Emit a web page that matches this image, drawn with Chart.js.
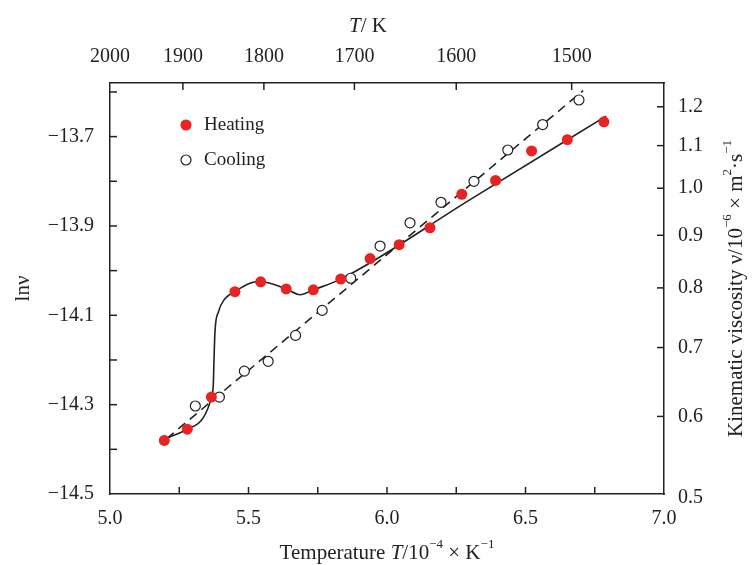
<!DOCTYPE html>
<html>
<head>
<meta charset="utf-8">
<script src="https://cdn.jsdelivr.net/npm/chart.js@4.4.0/dist/chart.umd.min.js"></script>
<style>
  body { margin: 0; background: #fff; }
  canvas { display: block; }
</style>
</head>
<body>
<canvas id="chart" width="755" height="565"></canvas>
<script>
// heating run (filled red), x = 1/T in 10^-4 K^-1, y = ln(nu)
const heatingX = [5.196, 5.279, 5.366, 5.451, 5.544, 5.636, 5.734, 5.833, 5.939, 6.044, 6.155, 6.270, 6.392, 6.522, 6.651, 6.783];
const heatingLn = [-14.38, -14.355, -14.283, -14.047, -14.025, -14.041, -14.043, -14.019, -13.973, -13.942, -13.904, -13.829, -13.798, -13.732, -13.707, -13.667];

// cooling run (open circles)
const coolingX = [5.308, 5.395, 5.485, 5.571, 5.670, 5.766, 5.869, 5.975, 6.083, 6.195, 6.314, 6.436, 6.562, 6.693];
const coolingLn = [-14.303, -14.283, -14.225, -14.203, -14.145, -14.089, -14.017, -13.945, -13.893, -13.847, -13.800, -13.730, -13.673, -13.618];

// solid curve traced through the heating data
const heatCurveX = [5.200, 5.279, 5.337, 5.366, 5.373, 5.375, 5.379, 5.391, 5.415, 5.451, 5.505, 5.544, 5.636, 5.686, 5.734, 5.833, 6.30, 6.791];
const heatCurveLn = [-14.376, -14.355, -14.329, -14.283, -14.254, -14.210, -14.137, -14.093, -14.063, -14.047, -14.028, -14.025, -14.041, -14.054, -14.043, -14.019, -13.841, -13.654];

// dashed fit for cooling
const coolFitX = [5.205, 6.708];
const coolFitLn = [-14.376, -13.597];

// axis ticks
const xTicks = [5.0, 5.25, 5.5, 5.75, 6.0, 6.25, 6.5, 6.75, 7.0];
const lnTicks = [-14.5, -14.4, -14.3, -14.2, -14.1, -14.0, -13.9, -13.8, -13.7, -13.6];
const topTemps = [2000, 1900, 1800, 1700, 1600, 1500];
const viscTicks = [0.5, 0.6, 0.7, 0.8, 0.9, 1.0, 1.1, 1.2];

const FONT = "'Liberation Serif', 'Times New Roman', serif";
const INK = '#222';
const RED = '#e82323';
const TICK = 7;

const pts = (xs, ys) => xs.map((x, i) => ({ x: x, y: ys[i] }));

// draws text pieces, some italic or raised
function richWidth(ctx, parts, size) {
  let w = 0;
  parts.forEach(p => {
    const s = p.sup ? size * 0.62 : size;
    ctx.font = (p.it ? 'italic ' : '') + s + 'px ' + FONT;
    w += ctx.measureText(p.t).width;
  });
  return w;
}
function drawRich(ctx, parts, size, cx, cy) {
  let x = cx - richWidth(ctx, parts, size) / 2;
  ctx.textBaseline = 'middle';
  ctx.textAlign = 'left';
  parts.forEach(p => {
    const s = p.sup ? size * 0.62 : size;
    ctx.font = (p.it ? 'italic ' : '') + s + 'px ' + FONT;
    ctx.fillText(p.t, x, p.sup ? cy - size * 0.38 : cy);
    x += ctx.measureText(p.t).width;
  });
}

const decorations = {
  id: 'decorations',
  afterDraw(chart) {
    const { ctx, chartArea: a } = chart;
    ctx.save();
    // inward tick marks
    ctx.strokeStyle = INK;
    ctx.lineWidth = 1.5;
    Object.values(chart.scales).forEach(s => {
      s.ticks.forEach(t => {
        const p = s.getPixelForValue(t.value);
        ctx.beginPath();
        if (s.isHorizontal()) {
          if (p <= a.left + 1 || p >= a.right - 1) return;
          const y0 = s.position === 'top' ? a.top : a.bottom;
          const d = s.position === 'top' ? TICK : -TICK;
          ctx.moveTo(p, y0); ctx.lineTo(p, y0 + d);
        } else {
          if (p <= a.top + 1 || p >= a.bottom - 1) return;
          const x0 = s.position === 'left' ? a.left : a.right;
          const d = s.position === 'left' ? TICK : -TICK;
          ctx.moveTo(x0, p); ctx.lineTo(x0 + d, p);
        }
        ctx.stroke();
      });
    });

    ctx.fillStyle = INK;
    // axis titles
    drawRich(ctx, [{ t: 'Temperature ' }, { t: 'T', it: true }, { t: '/10' }, { t: '\u22124', sup: true }, { t: ' \u00d7 K' }, { t: '\u22121', sup: true }], 21, (a.left + a.right) / 2, 553);
    drawRich(ctx, [{ t: 'T', it: true }, { t: '/ K' }], 21, 368, 26);
    ctx.save();
    ctx.translate(736, (a.top + a.bottom) / 2);
    ctx.rotate(-Math.PI / 2);
    drawRich(ctx, [{ t: 'Kinematic viscosity \u03bd/10' }, { t: '\u22126', sup: true }, { t: ' \u00d7 m' }, { t: '2', sup: true }, { t: '\u00b7s' }, { t: '\u22121', sup: true }], 21, 0, 0);
    ctx.restore();

    // legend inside the plot
    const rows = [
      { label: 'Heating', fill: RED, stroke: RED, y: a.top + 42 },
      { label: 'Cooling', fill: '#fff', stroke: INK, y: a.top + 77 }
    ];
    rows.forEach(r => {
      ctx.beginPath();
      ctx.arc(a.left + 76, r.y, 5, 0, Math.PI * 2);
      ctx.fillStyle = r.fill;
      ctx.fill();
      ctx.lineWidth = 1.2;
      ctx.strokeStyle = r.stroke;
      ctx.stroke();
      ctx.fillStyle = INK;
      ctx.font = '19px ' + FONT;
      ctx.textAlign = 'left';
      ctx.textBaseline = 'middle';
      ctx.fillText(r.label, a.left + 94, r.y);
    });
    ctx.restore();
  }
};

const tickFont = { family: FONT, size: 20 };
const frame = { display: true, color: INK, width: 1.5 };

new Chart(document.getElementById('chart').getContext('2d'), {
  type: 'scatter',
  data: {
    datasets: [
      {
        label: 'Heating',
        data: pts(heatingX, heatingLn),
        backgroundColor: RED,
        borderColor: RED,
        pointRadius: 5.5,
        pointBorderWidth: 0
      },
      {
        label: 'Cooling',
        data: pts(coolingX, coolingLn),
        backgroundColor: '#fff',
        borderColor: INK,
        pointRadius: 5,
        pointBorderWidth: 1.2
      },
      {
        label: '',
        data: pts(heatCurveX, heatCurveLn),
        showLine: true,
        cubicInterpolationMode: 'monotone',
        borderColor: INK,
        borderWidth: 1.6,
        pointRadius: 0
      },
      {
        label: '',
        data: pts(coolFitX, coolFitLn),
        showLine: true,
        borderColor: INK,
        borderWidth: 1.6,
        borderDash: [9, 6],
        pointRadius: 0
      }
    ]
  },
  options: {
    responsive: false,
    animation: false,
    layout: { padding: 0 },
    plugins: {
      legend: { display: false },
      tooltip: { enabled: false }
    },
    scales: {
      x: {
        type: 'linear',
        position: 'bottom',
        min: 5.0,
        max: 7.0,
        afterBuildTicks: s => { s.ticks = xTicks.map(v => ({ value: v })); },
        afterFit: s => { s.height = 71; },
        ticks: {
          autoSkip: false,
          maxRotation: 0,
          padding: 13,
          color: INK,
          font: tickFont,
          callback: v => (Math.round(v * 100) % 50 === 0 ? v.toFixed(1) : '')
        },
        grid: { display: false, drawTicks: false },
        border: frame
      },
      x2: {
        type: 'linear',
        position: 'top',
        min: 5.0,
        max: 7.0,
        afterBuildTicks: s => { s.ticks = topTemps.map(t => ({ value: 1e4 / t })); },
        afterFit: s => { s.height = 83; },
        ticks: {
          autoSkip: false,
          maxRotation: 0,
          padding: 14,
          color: INK,
          font: tickFont,
          callback: (v, i) => String(topTemps[i])
        },
        grid: { display: false, drawTicks: false },
        border: frame
      },
      y: {
        type: 'linear',
        position: 'left',
        min: -14.5,
        max: -13.58,
        afterBuildTicks: s => { s.ticks = lnTicks.map(v => ({ value: v })); },
        afterFit: s => { s.width = 110; },
        ticks: {
          autoSkip: false,
          padding: 16,
          color: INK,
          font: tickFont,
          callback: v => (Math.abs(Math.round(v * 10)) % 2 === 1 ? '\u2212' + Math.abs(v).toFixed(1) : '')
        },
        title: {
          display: true,
          text: 'ln\u03bd',
          color: INK,
          font: { family: FONT, size: 21 },
          padding: { top: 11, bottom: 0 }
        },
        grid: { display: false, drawTicks: false },
        border: frame
      },
      y2: {
        type: 'linear',
        position: 'right',
        min: -14.5,
        max: -13.58,
        afterBuildTicks: s => { s.ticks = viscTicks.map(v => ({ value: Math.log(v * 1e-6) })); },
        afterFit: s => { s.width = 91; },
        ticks: {
          autoSkip: false,
          padding: 14,
          color: INK,
          font: tickFont,
          callback: (v, i) => viscTicks[i].toFixed(1)
        },
        grid: { display: false, drawTicks: false },
        border: frame
      }
    }
  },
  plugins: [decorations]
});
</script>
</body>
</html>
